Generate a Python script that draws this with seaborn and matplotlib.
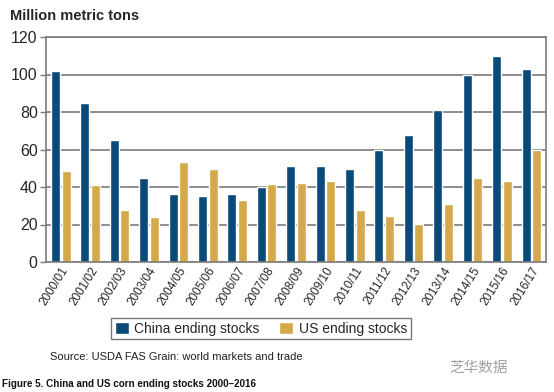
import seaborn as sns
import matplotlib.pyplot as plt
import pandas as pd

seasons = ["2000/01", "2001/02", "2002/03", "2003/04", "2004/05", "2005/06",
           "2006/07", "2007/08", "2008/09", "2009/10", "2010/11", "2011/12",
           "2012/13", "2013/14", "2014/15", "2015/16", "2016/17"]
china = [102, 85, 65, 45, 36.5, 35, 36.5, 40, 51, 51, 49.5, 60, 68, 81, 100, 110, 103]
us = [48.5, 41, 27.5, 24, 53.5, 49.5, 33, 41.5, 42, 43, 27.5, 24.5, 20.5, 31, 45, 43, 60]
yticks = [0, 20, 40, 60, 80, 100, 120]

df = pd.DataFrame({
    "season": seasons * 2,
    "stocks": china + us,
    "series": ["China ending stocks"] * len(seasons) + ["US ending stocks"] * len(seasons),
})

sns.set_style("white")
plt.rcParams['font.family'] = ['Liberation Sans', 'DejaVu Sans']

fig = plt.figure(figsize=(5.54, 3.92), dpi=100)
ax = fig.add_axes([46 / 554, 1 - 262 / 392, 500 / 554, 225 / 392])

sns.barplot(data=df, x="season", y="stocks", hue="series",
            palette=["#0b4a78", "#d4a94a"], width=0.72, gap=0.15,
            saturation=1, ax=ax)

ax.set_ylim(0, 120)
ax.set_xlim(-0.5, len(seasons) - 0.5)
ax.set_yticks(yticks)
ax.yaxis.grid(True, color="#7a7a7a", linewidth=1.2)
ax.set_axisbelow(True)
for s in ax.spines.values():
    s.set_color("#7a7a7a")
    s.set_linewidth(1.2)
ax.tick_params(axis="y", length=4, width=1, color="#7a7a7a", labelsize=11.5, pad=2, left=True)
ax.tick_params(axis="x", length=0, labelsize=8.5, pad=2)
plt.setp(ax.get_xticklabels(), rotation=58, ha="right", rotation_mode="anchor")
ax.set_xlabel("")
ax.set_ylabel("")

leg = ax.legend(loc="upper center", bbox_to_anchor=(0.43, -0.22), ncol=2,
                frameon=True, fancybox=False, fontsize=10, handlelength=1.0,
                handleheight=1.0, handletextpad=0.4, columnspacing=1.4,
                borderpad=0.25, edgecolor="#555555")
leg.get_frame().set_linewidth(1.0)

fig.text(10 / 554, 1 - 16 / 392, "Million metric tons", fontsize=10.5,
         fontweight="bold", va="center", ha="left")
fig.text(50 / 554, 1 - 357 / 392, "Source: USDA FAS Grain: world markets and trade",
         fontsize=8, va="center", ha="left", color="#222222")
fig.text(2 / 554, 1 - 384 / 392, "Figure 5. China and US corn ending stocks 2000\u20132016",
         fontsize=7.1, fontweight="bold", va="center", ha="left", color="#111111")
fig.text(508 / 554, 1 - 368 / 392, "芝华数据", fontsize=10.5, va="center", ha="right",
         color="#a0a0a0", family=["Noto Sans CJK SC", "DejaVu Sans"])

fig.savefig("out.png", dpi=100)
